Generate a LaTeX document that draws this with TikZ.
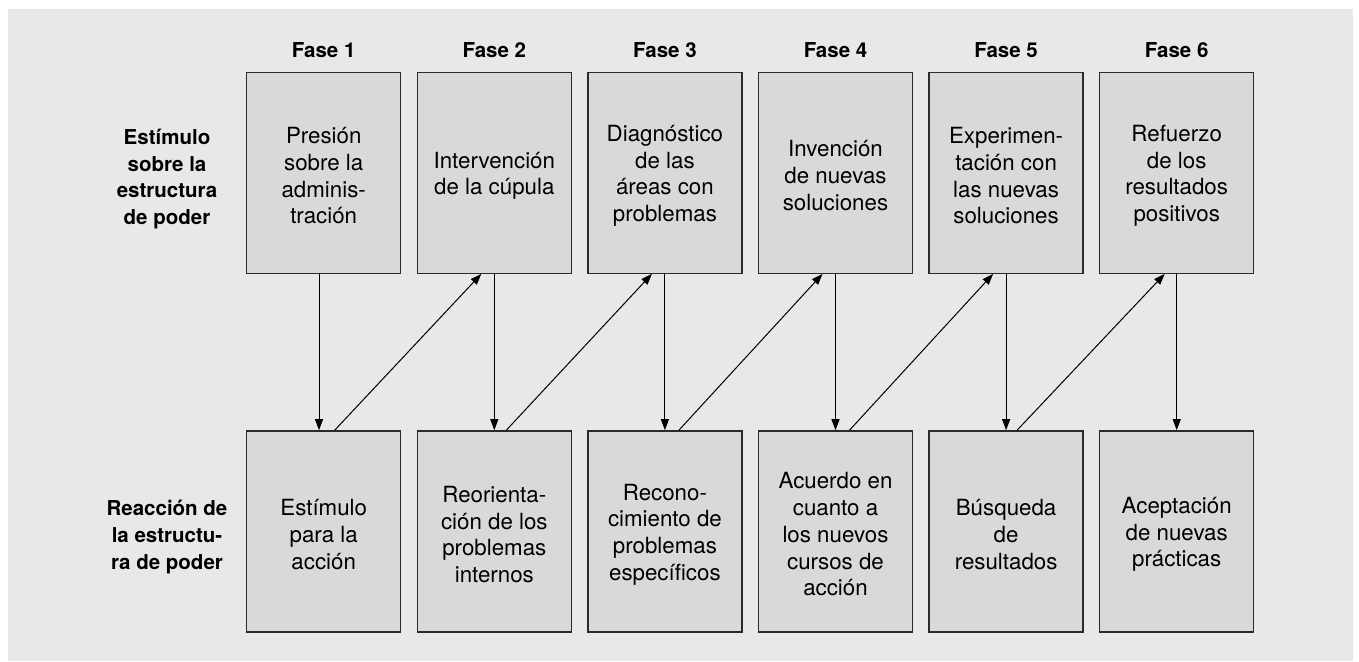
\documentclass[tikz,border=0pt]{standalone}
\usepackage{fontspec}
\setmainfont{TeX Gyre Heros}
\usetikzlibrary{arrows.meta}
\definecolor{panelgray}{HTML}{E8E8E8}
\definecolor{boxgray}{HTML}{D9D9D9}
\definecolor{edgegray}{HTML}{2A2A2A}
\tikzset{
  phasebox/.style={draw=edgegray, line width=1.4pt, fill=boxgray, minimum width=154pt, minimum height=201pt, inner sep=0pt},
  boxtext/.style={align=center, inner sep=0pt, yshift=-3pt, font=\fontsize{22.3}{26.7}\selectfont},
  sidelabel/.style={align=center, font=\fontsize{20.5}{26.7}\selectfont\bfseries},
  phasehead/.style={font=\fontsize{20.5}{24}\selectfont\bfseries},
  arr/.style={draw=black, line width=1pt, -{Triangle[length=11pt,width=8pt]}}
}
\begin{document}
\begin{tikzpicture}[x=1pt,y=-1pt]
\useasboundingbox (0,0) rectangle (1359,661);
\fill[white] (0,0) rectangle (1359,661);
\fill[panelgray] (8,9) rectangle (1353,661);
% phase headers
\node[phasehead] (h1) at (323.7,50) {Fase 1};
\node[phasehead] (h2) at (494.3,50) {Fase 2};
\node[phasehead] (h3) at (664.9,50) {Fase 3};
\node[phasehead] (h4) at (835.5,50) {Fase 4};
\node[phasehead] (h5) at (1006.1,50) {Fase 5};
\node[phasehead] (h6) at (1176.7,50) {Fase 6};
% side labels
\node[sidelabel] (ls) at (167,179) {Estímulo\\sobre la\\estructura\\de poder};
\node[sidelabel] (lr) at (167,537) {Reacción de\\la estructu-\\ra de poder};
% top boxes
\node[phasebox] (t1) at (323.7,172.7) {};
\node[phasebox] (t2) at (494.3,172.7) {};
\node[phasebox] (t3) at (664.9,172.7) {};
\node[phasebox] (t4) at (835.5,172.7) {};
\node[phasebox] (t5) at (1006.1,172.7) {};
\node[phasebox] (t6) at (1176.7,172.7) {};
\node[boxtext] (tt1) at (t1.center) {Presión\\sobre la\\adminis-\\tración};
\node[boxtext] (tt2) at (t2.center) {Intervención\\de la cúpula};
\node[boxtext] (tt3) at (t3.center) {Diagnóstico\\de las\\áreas con\\problemas};
\node[boxtext] (tt4) at (t4.center) {Invención\\de nuevas\\soluciones};
\node[boxtext] (tt5) at (t5.center) {Experimen-\\tación con\\las nuevas\\soluciones};
\node[boxtext] (tt6) at (t6.center) {Refuerzo\\de los\\resultados\\positivos};
% bottom boxes
\node[phasebox] (b1) at (323.7,531.4) {};
\node[phasebox] (b2) at (494.3,531.4) {};
\node[phasebox] (b3) at (664.9,531.4) {};
\node[phasebox] (b4) at (835.5,531.4) {};
\node[phasebox] (b5) at (1006.1,531.4) {};
\node[phasebox] (b6) at (1176.7,531.4) {};
\node[boxtext] (bt1) at (b1.center) {Estímulo\\para la\\acción};
\node[boxtext] (bt2) at (b2.center) {Reorienta-\\ción de los\\problemas\\internos};
\node[boxtext] (bt3) at (b3.center) {Recono-\\cimiento de\\problemas\\específicos};
\node[boxtext] (bt4) at (b4.center) {Acuerdo en\\cuanto a\\los nuevos\\cursos de\\acción};
\node[boxtext] (bt5) at (b5.center) {Búsqueda\\de\\resultados};
\node[boxtext] (bt6) at (b6.center) {Aceptación\\de nuevas\\prácticas};
% vertical arrows
\draw[arr] ([xshift=-4.7pt]t1.south) -- ([xshift=-4.7pt]b1.north);
\draw[arr] (t2.south) -- (b2.north);
\draw[arr] (t3.south) -- (b3.north);
\draw[arr] (t4.south) -- (b4.north);
\draw[arr] (t5.south) -- (b5.north);
\draw[arr] (t6.south) -- (b6.north);
% diagonal arrows
\draw[arr] ([xshift=11pt]b1.north) -- ([xshift=-13pt]t2.south);
\draw[arr] ([xshift=12pt]b2.north) -- ([xshift=-13pt]t3.south);
\draw[arr] ([xshift=14pt]b3.north) -- ([xshift=-13pt]t4.south);
\draw[arr] ([xshift=14pt]b4.north) -- ([xshift=-13pt]t5.south);
\draw[arr] ([xshift=11pt]b5.north) -- ([xshift=-12pt]t6.south);
\end{tikzpicture}
\end{document}
